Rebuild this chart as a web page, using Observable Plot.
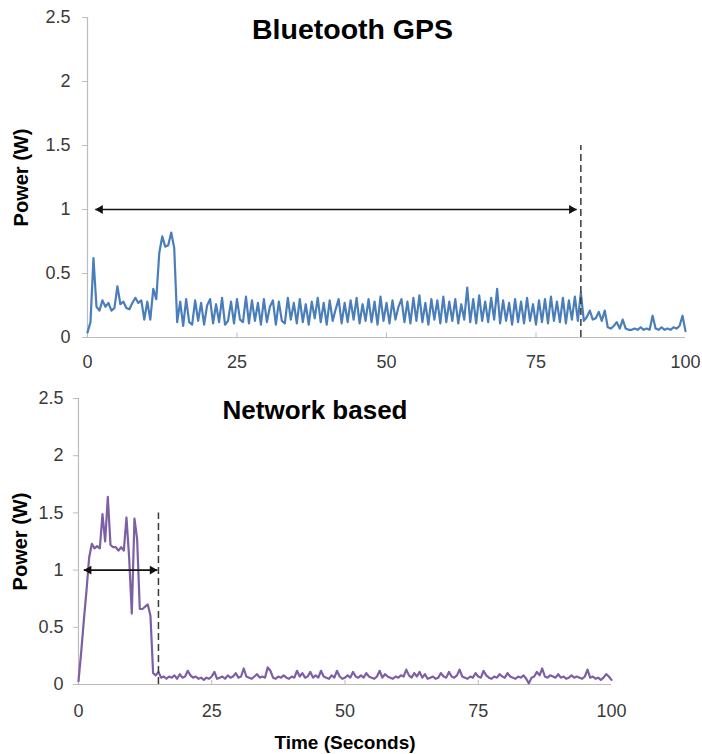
<!DOCTYPE html>
<html>
<head>
<meta charset="utf-8">
<script src="https://cdn.jsdelivr.net/npm/d3@7"></script>
<script src="https://cdn.jsdelivr.net/npm/@observablehq/plot@0.6"></script>
<style>
  html, body { margin: 0; padding: 0; background: #fff; }
  #wrap { width: 702px; height: 754px; position: relative; }
  #wrap svg { display: block; }
</style>
</head>
<body>
<div id="wrap"></div>
<script>
// ---- data ----
const sampleStep = 0.5; // seconds between samples
const xTicks = [0, 25, 50, 75, 100];
const yTicks = [0, 0.5, 1, 1.5, 2, 2.5];
const minorXTicks = [25, 50, 75];

const bluetoothTitle = "Bluetooth GPS";
const networkTitle = "Network based";
const yLabel = "Power (W)";
const xLabel = "Time (Seconds)";

const bluetoothPower = [
  0.04, 0.12, 0.62, 0.24, 0.21, 0.29, 0.24, 0.27, 0.21, 0.23,
  0.40, 0.26, 0.28, 0.23, 0.22, 0.27, 0.31, 0.27, 0.29, 0.14,
  0.28, 0.14, 0.38, 0.30, 0.66, 0.79, 0.71, 0.72, 0.82, 0.70,
  0.12, 0.28, 0.09, 0.30, 0.12, 0.10, 0.29, 0.13, 0.27, 0.10,
  0.25, 0.30, 0.11, 0.26, 0.12, 0.31, 0.10, 0.13, 0.28, 0.11,
  0.30, 0.14, 0.12, 0.32, 0.11, 0.29, 0.13, 0.27, 0.10, 0.30,
  0.12, 0.24, 0.29, 0.10, 0.28, 0.13, 0.11, 0.31, 0.14, 0.27,
  0.11, 0.30, 0.12, 0.26, 0.10, 0.28, 0.15, 0.31, 0.12, 0.27,
  0.10, 0.29, 0.13, 0.22, 0.30, 0.11, 0.27, 0.12, 0.29, 0.14,
  0.31, 0.11, 0.26, 0.13, 0.30, 0.12, 0.28, 0.10, 0.32, 0.13,
  0.27, 0.11, 0.29, 0.14, 0.24, 0.30, 0.12, 0.28, 0.11, 0.31,
  0.13, 0.33, 0.12, 0.27, 0.10, 0.30, 0.14, 0.29, 0.11, 0.32,
  0.12, 0.28, 0.13, 0.30, 0.11, 0.26, 0.14, 0.39, 0.12, 0.30,
  0.11, 0.33, 0.13, 0.28, 0.12, 0.31, 0.14, 0.38, 0.11, 0.29,
  0.13, 0.27, 0.10, 0.30, 0.12, 0.28, 0.11, 0.31, 0.13, 0.26,
  0.10, 0.29, 0.12, 0.30, 0.11, 0.32, 0.13, 0.28, 0.12, 0.31,
  0.11, 0.29, 0.14, 0.32, 0.13, 0.35, 0.13, 0.16, 0.21, 0.14,
  0.15, 0.20, 0.13, 0.21, 0.08, 0.07, 0.09, 0.12, 0.07, 0.14,
  0.07, 0.06, 0.06, 0.07, 0.06, 0.08, 0.06, 0.07, 0.06, 0.17,
  0.07, 0.06, 0.08, 0.06, 0.07, 0.06, 0.08, 0.07, 0.09, 0.17,
  0.05
];

const networkPower = [
  0.03, 0.28, 0.56, 0.82, 1.11, 1.23, 1.19, 1.21, 1.19, 1.49,
  1.25, 1.64, 1.22, 1.20, 1.20, 1.17, 1.20, 1.17, 1.46, 1.11,
  0.62, 1.45, 1.27, 0.66, 0.66, 0.68, 0.70, 0.60, 0.10, 0.08,
  0.11, 0.06, 0.07, 0.05, 0.07, 0.06, 0.08, 0.05, 0.09, 0.06,
  0.07, 0.12, 0.08, 0.06, 0.07, 0.05, 0.06, 0.04, 0.06, 0.05,
  0.07, 0.11, 0.05, 0.06, 0.07, 0.05, 0.08, 0.06, 0.07, 0.10,
  0.06, 0.07, 0.14, 0.07, 0.06, 0.05, 0.07, 0.09, 0.06, 0.07,
  0.06, 0.15, 0.12, 0.06, 0.05, 0.07, 0.06, 0.08, 0.06, 0.05,
  0.07, 0.06, 0.12, 0.07, 0.10, 0.06, 0.07, 0.11, 0.06, 0.08,
  0.06, 0.12, 0.07, 0.06, 0.05, 0.08, 0.06, 0.12, 0.07, 0.05,
  0.06, 0.08, 0.06, 0.11, 0.07, 0.06, 0.08, 0.06, 0.10, 0.07,
  0.06, 0.05, 0.07, 0.12, 0.06, 0.09, 0.07, 0.06, 0.05, 0.07,
  0.06, 0.08, 0.07, 0.13, 0.08, 0.06, 0.10, 0.07, 0.11, 0.06,
  0.09, 0.05, 0.06, 0.07, 0.05, 0.06, 0.10, 0.07, 0.06, 0.11,
  0.07, 0.06, 0.08, 0.13, 0.07, 0.06, 0.05, 0.07, 0.06, 0.10,
  0.07, 0.06, 0.12, 0.08, 0.06, 0.05, 0.07, 0.06, 0.09, 0.07,
  0.06, 0.10, 0.07, 0.06, 0.05, 0.07, 0.06, 0.08, 0.05, 0.01,
  0.06, 0.07, 0.11, 0.08, 0.14, 0.07, 0.06, 0.08, 0.07, 0.06,
  0.09, 0.06, 0.07, 0.05, 0.06, 0.08, 0.06, 0.07, 0.06, 0.05,
  0.07, 0.13, 0.06, 0.07, 0.05, 0.06, 0.04, 0.06, 0.09, 0.07,
  0.04
];

// annotation values: arrow span [start, end] at a power level, cutoff time with dashed line
const arrowLevel = 1;
const cutoffTop = 1.5;
const bluetoothSpan = [1.3, 81.8];
const bluetoothCutoff = 82.5;
const networkSpan = [1.0, 14.8];
const networkCutoff = 15;

// ---- drawing ----
const FONT = "'Liberation Sans', Arial, Helvetica, sans-serif";
const AXIS_GRAY = "#bcbcbc";

function makeChart(o) {
  const series = o.values.map((v, i) => ({t: i * sampleStep, p: v}));
  const span = [{x1: o.span[0], x2: o.span[1], y: arrowLevel}];
  const leftHead = [{x: o.span[0], y: arrowLevel}];
  const rightHead = [{x: o.span[1], y: arrowLevel}];
  return Plot.plot({
    width: 702,
    height: o.height,
    marginLeft: o.ml,
    marginRight: o.mr,
    marginTop: o.mt,
    marginBottom: o.mb,
    style: {fontFamily: FONT, fontSize: "18px", color: "#333", background: "#fff"},
    x: {domain: [0, 100]},
    y: {domain: [0, 2.5]},
    marks: [
      Plot.axisX({ticks: xTicks, tickSize: 0, tickPadding: o.xPad, label: null, fill: "#3a3a3a"}),
      Plot.axisY({ticks: yTicks, tickSize: 5, tickPadding: o.yPad, tickFormat: d => String(d), label: null, stroke: AXIS_GRAY, fill: "#3a3a3a"}),
      Plot.ruleY([0], {stroke: AXIS_GRAY, strokeWidth: 1.2}),
      Plot.ruleX([0], {stroke: AXIS_GRAY, strokeWidth: 1.2}),
      Plot.ruleX(minorXTicks, {y1: 0, y2: 0.035, stroke: AXIS_GRAY}),
      Plot.line(series, {x: "t", y: "p", stroke: o.color, strokeWidth: 2.2, strokeLinejoin: "round"}),
      Plot.ruleX([o.cutoff], {y1: 0, y2: cutoffTop, stroke: "#3a3a3a", strokeWidth: 1.5, strokeDasharray: "7,4"}),
      Plot.link(span, {x1: "x1", x2: "x2", y1: "y", y2: "y", stroke: "#111", strokeWidth: 1.6}),
      Plot.dot(leftHead, {x: "x", y: "y", symbol: "triangle", rotate: -90, r: 3.3, fill: "#111", stroke: "none", dx: 5}),
      Plot.dot(rightHead, {x: "x", y: "y", symbol: "triangle", rotate: 90, r: 3.3, fill: "#111", stroke: "none", dx: -5}),
      Plot.text([o.title], {text: d => d, frameAnchor: "top", lineAnchor: "top", dx: o.titleDx, dy: o.titleDy, fontSize: o.titleSize, fontWeight: "bold", fill: "#000"}),
      Plot.text([yLabel], {text: d => d, frameAnchor: "left", rotate: -90, textAnchor: "middle", lineAnchor: "middle", dx: o.labelDx, fontSize: 20, fontWeight: "bold", fill: "#000"}),
      ...(o.xLabel ? [Plot.text([o.xLabel], {text: d => d, frameAnchor: "bottom", lineAnchor: "top", dy: o.xLabelDy, fontSize: 19, fontWeight: "bold", fill: "#000"})] : [])
    ]
  });
}

const wrap = document.getElementById("wrap");
wrap.appendChild(makeChart({
  values: bluetoothPower, color: "#4a7ebb", title: bluetoothTitle,
  span: bluetoothSpan, cutoff: bluetoothCutoff,
  height: 380, ml: 87, mr: 17, mt: 17, mb: 43,
  xPad: 18, yPad: 12, titleDx: -34, titleDy: 1, titleSize: 28.5, labelDx: -66
}));
wrap.appendChild(makeChart({
  values: networkPower, color: "#7d5fa6", title: networkTitle,
  span: networkSpan, cutoff: networkCutoff,
  height: 374, ml: 78, mr: 91, mt: 18, mb: 70,
  xPad: 20, yPad: 10, titleDx: -30, titleDy: 2, titleSize: 26, labelDx: -58,
  xLabel: xLabel, xLabelDy: 51
}));
</script>
</body>
</html>
